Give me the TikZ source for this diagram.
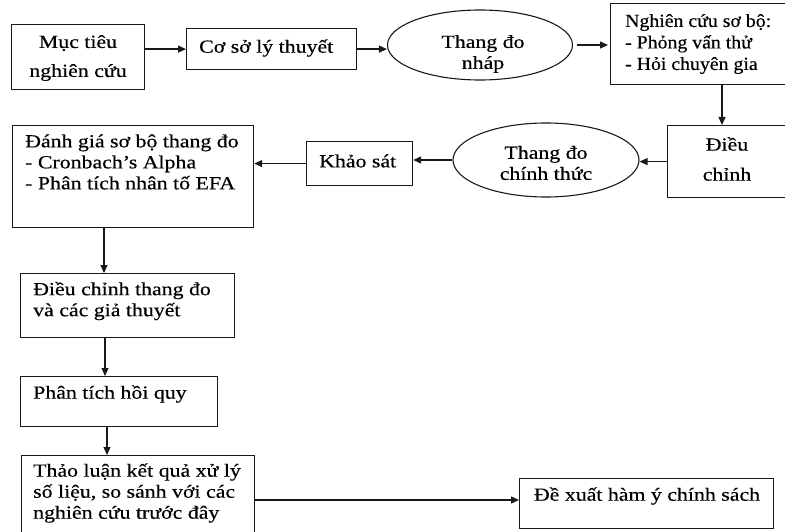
\documentclass[tikz,border=0pt]{standalone}
\usepackage{fontspec}
\setmainfont[FakeStretch=1.18,FakeBold=0.4]{Liberation Serif}
\newfontfamily\narrowserif[FakeStretch=1.07,FakeBold=0.4]{Liberation Serif}
\usetikzlibrary{arrows.meta,shapes.geometric}
\begin{document}
\begin{tikzpicture}[x=1pt,y=-1pt,
  box/.style={draw=black!90, line width=1.2pt, inner sep=0pt, anchor=north west},
  ell/.style={draw=black!90, ellipse, line width=1.1pt, inner sep=0pt},
  txt/.style={inner sep=0pt, font=\fontsize{18.5}{21}\selectfont, align=left},
  ctxt/.style={inner sep=0pt, font=\fontsize{18.5}{21}\selectfont, align=center},
  arr/.style={draw=black!90, line width=1.2pt, -{Triangle[length=8pt,width=7pt]}}]
\useasboundingbox (0,0) rectangle (785,532);
\clip (0,0) rectangle (785,532);
% shapes
\node[box, minimum width=133pt, minimum height=65pt] (b1) at (11,24) {};
\node[box, minimum width=170pt, minimum height=41pt] (b2) at (186,28) {};
\node[ell, minimum width=185pt, minimum height=70pt] (e1) at (480,45) {};
\node[box, minimum width=180pt, minimum height=81pt] (b3) at (610,3) {};
\node[box, minimum width=125pt, minimum height=72pt] (b4) at (667,125) {};
\node[ell, minimum width=186pt, minimum height=74pt] (e2) at (546,160) {};
\node[box, minimum width=106pt, minimum height=44pt] (b5) at (306,141) {};
\node[box, minimum width=241pt, minimum height=102pt] (b6) at (12,125) {};
\node[box, minimum width=214pt, minimum height=64pt] (b7) at (20,273) {};
\node[box, minimum width=197pt, minimum height=50pt] (b8) at (20,376) {};
\node[box, minimum width=233pt, minimum height=90pt] (b9) at (21,455) {};
\node[box, minimum width=254pt, minimum height=50pt] (b10) at (519,478) {};
% texts
\node[ctxt, font=\fontsize{18.5}{29}\selectfont] (t1) at (78,58) {Mục tiêu\\nghiên cứu};
\node[txt, anchor=west] (t2) at (199,48) {Cơ sở lý thuyết};
\node[ctxt] (t3) at (483,54) {Thang đo\\nháp};
\node[txt, anchor=west, font=\narrowserif\fontsize{18.5}{21.5}\selectfont] (t4) at (625,44) {Nghiên cứu sơ bộ:\\- Phỏng vấn thử\\- Hỏi chuyên gia};
\node[ctxt, font=\fontsize{18.5}{30}\selectfont] (t5) at (727,159) {Điều\\chỉnh};
\node[ctxt] (t6) at (546,163) {Thang đo\\chính thức};
\node[txt, anchor=west] (t7) at (319,161) {Khảo sát};
\node[txt, anchor=west] (t8) at (25,162) {Đánh giá sơ bộ thang đo\\- Cronbach’s Alpha\\- Phân tích nhân tố EFA};
\node[txt, anchor=west] (t9) at (33,301) {Điều chỉnh thang đo\\và các giả thuyết};
\node[txt, anchor=west] (t10) at (33,394) {Phân tích hồi quy};
\node[txt, anchor=west] (t11) at (33,493) {Thảo luận kết quả xử lý\\số liệu, so sánh với các\\nghiên cứu trước đây};
\node[ctxt] (t12) at (647,496) {Đề xuất hàm ý chính sách};
% helper coordinates
\coordinate (c1) at (722,0);
\coordinate (c2) at (104,0);
\coordinate (c3) at (105,0);
\coordinate (c4) at (107,0);
\coordinate (c5) at (0,500);
% connectors
\draw[arr] (b1.east |- b2.west) -- (b2.west);
\draw[arr] (b2.east) -- (b2.east -| e1.west);
\draw[arr] ([xshift=4pt]e1.east) -- ([xshift=-2pt]e1.east -| b3.west);
\draw[arr] (b3.south -| c1) -- (b4.north -| c1);
\draw[arr] (b4.west) -- (b4.west -| e2.east);
\draw[arr] (e2.west) -- (e2.west -| b5.east);
\draw[arr] (b5.west) -- (b5.west -| b6.east);
\draw[arr] (b6.south -| c2) -- (b7.north -| c2);
\draw[arr] (b7.south -| c3) -- (b8.north -| c3);
\draw[arr] (b8.south -| c4) -- (b9.north -| c4);
\draw[arr] (b9.east |- c5) -- (b10.west |- c5);
\end{tikzpicture}
\end{document}
